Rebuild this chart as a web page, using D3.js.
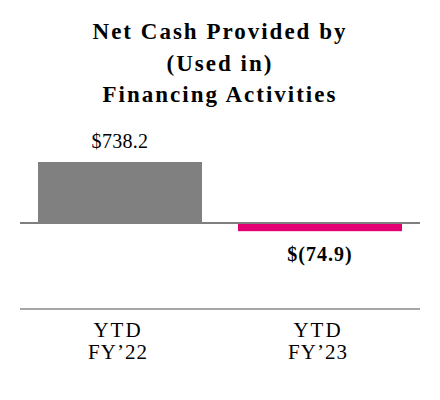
<!DOCTYPE html>
<html><head><meta charset="utf-8">
<script src="https://cdn.jsdelivr.net/npm/d3@7"></script>
<style>body{margin:0;background:#fff}svg{display:block}</style>
</head><body><svg id="c" width="440" height="400"></svg>
<script>
const titleLines = ["Net Cash Provided by", "(Used in)", "Financing Activities"];
const categories = ["YTD\nFY\u201922", "YTD\nFY\u201923"];
const values = [738.2, -74.9];
const valueLabels = ["$738.2", "$(74.9)"];
const colors = ["#808080", "#E20074"];

const svg = d3.select("#c");
const font = "'Liberation Serif','Times New Roman',serif";

const x = d3.scaleBand().domain(categories).range([20, 420]).paddingInner(0.18).paddingOuter(0.09);
const y = d3.scaleLinear().domain([0, 738.2]).range([223, 162]);

// title
svg.append("g").selectAll("text").data(titleLines).join("text")
  .attr("x", 220).attr("y", (d, i) => 39 + i * 31.5)
  .attr("text-anchor", "middle")
  .style("font-family", font).style("font-weight", "bold").style("font-size", "23px")
  .style("letter-spacing", "2px").attr("fill", "#000")
  .text(d => d);

// bars
svg.append("g").selectAll("rect").data(values).join("rect")
  .attr("x", (d, i) => x(categories[i]))
  .attr("width", x.bandwidth())
  .attr("y", d => Math.min(y(d), y(0)))
  .attr("height", d => Math.abs(y(d) - y(0)) + (d < 0 ? 2 : 0))
  .attr("fill", (d, i) => colors[i]);

// zero line
svg.append("line").attr("x1", 20).attr("x2", 420).attr("y1", y(0)).attr("y2", y(0))
  .attr("stroke", "#7f7f7f").attr("stroke-width", 2);

// value labels
svg.append("g").selectAll("text").data(values).join("text")
  .attr("x", (d, i) => x(categories[i]) + x.bandwidth() / 2)
  .attr("y", d => d >= 0 ? y(d) - 14 : y(d) + 32)
  .attr("text-anchor", "middle")
  .style("font-family", font).style("font-size", "20px")
  .style("font-weight", d => d < 0 ? "bold" : "normal")
  .style("letter-spacing", d => d < 0 ? "1px" : "0.3px")
  .attr("fill", "#000")
  .text((d, i) => valueLabels[i]);

// bottom axis line
svg.append("line").attr("x1", 20).attr("x2", 420).attr("y1", 309).attr("y2", 309)
  .attr("stroke", "#a6a6a6").attr("stroke-width", 2);

// category labels (one text per line)
categories.forEach(d => {
  const cx = x(d) + x.bandwidth() / 2 - 2;
  svg.append("g").selectAll("text").data(d.split("\n")).join("text")
    .attr("x", cx).attr("y", (t, i) => 337 + i * 22)
    .attr("text-anchor", "middle")
    .style("font-family", font).style("font-size", "21px")
    .style("letter-spacing", (t, i) => i === 0 ? "2px" : "1px")
    .attr("fill", "#000")
    .text(t => t);
});
</script></body></html>
